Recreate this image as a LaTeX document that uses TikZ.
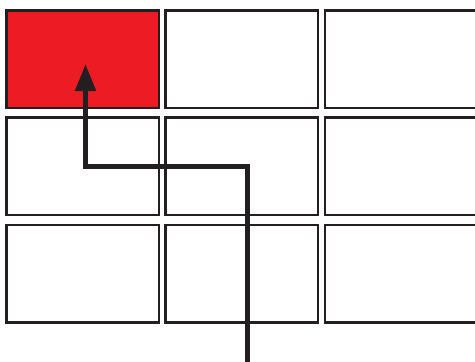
\documentclass[tikz,border=0pt]{standalone}
\usepackage{tikz}
\usetikzlibrary{arrows.meta, positioning}

\definecolor{linegray}{HTML}{231F20}
\definecolor{cellred}{HTML}{ED1C24}

\begin{document}
\begin{tikzpicture}[x=1pt, y=1pt, >={Triangle[length=27pt, width=20pt]}]
  \tikzset{
    cell/.style={
      rectangle,
      draw=linegray,
      line width=2.5pt,
      minimum width=152.5pt,
      minimum height=97.5pt,
      inner sep=0pt},
    goal/.style={
      cell,
      fill=cellred},
    route/.style={
      draw=linegray,
      line width=5pt}}

  \useasboundingbox (0,0) rectangle (475,-362);

  \node[goal] (c11) at (82.5,-59) {};
  \node[cell] (c12) [right=4pt of c11] {};
  \node[cell] (c13) [right=4.5pt of c12] {};
  \node[cell] (c21) [below=7pt of c11] {};
  \node[cell] (c22) [right=4pt of c21] {};
  \node[cell] (c23) [right=4.5pt of c22] {};
  \node[cell] (c31) [below=7.5pt of c21] {};
  \node[cell] (c32) [right=4pt of c31] {};
  \node[cell] (c33) [right=4.5pt of c32] {};

  \coordinate (start) at (247,-364);
  \coordinate (turn) at (85.5,-166);
  \coordinate (tip) at (85.5,-64);

  \draw[route, ->] (start) |- (turn) -- (tip);

\end{tikzpicture}
\end{document}
